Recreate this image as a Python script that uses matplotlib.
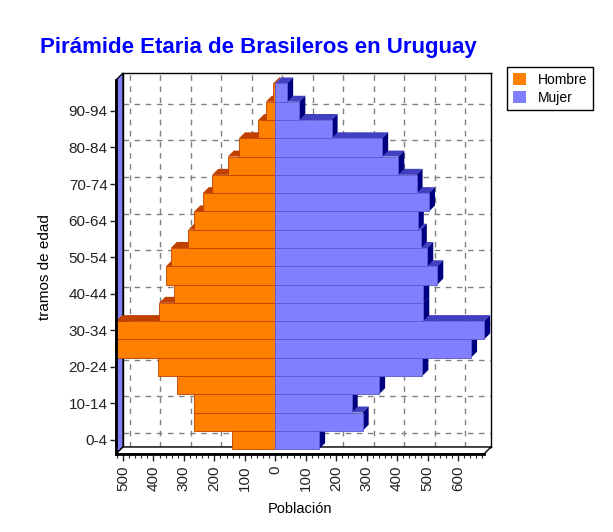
import numpy as np
import matplotlib
matplotlib.use("Agg")
import matplotlib.pyplot as plt
from matplotlib.patches import Polygon, Patch

plt.rcParams["font.family"] = ["Liberation Sans", "DejaVu Sans"]

W, H = 613, 532

# age groups bottom -> top
ages = ["0-4", "5-9", "10-14", "15-19", "20-24", "25-29", "30-34", "35-39",
        "40-44", "45-49", "50-54", "55-59", "60-64", "65-69", "70-74",
        "75-79", "80-84", "85-89", "90-94", "95-99"]
hombre = [143, 267, 267, 322, 386, 519, 523, 381, 332, 359,
          343, 286, 266, 238, 207, 156, 119, 56, 31, 7]
mujer = [144, 287, 251, 341, 483, 643, 686, 486, 486, 532,
         499, 478, 468, 505, 464, 404, 351, 185, 79, 39]
xticks = [-500, -400, -300, -200, -100, 0, 100, 200, 300, 400, 500, 600]

ORANGE = "#ff8000"
ORANGE_TOP = "#c04000"
BLUE = "#8080ff"
BLUE_TOP = "#4040c0"
BLUE_SIDE = "#000080"

# front face box in pixels (left, right, top, bottom)
FL, FR, FT, FB = 116, 484, 80, 454
WALL = 7      # depth of the back wall, px
DEPTH = 6     # depth of the bars, px
XMIN, XMAX = -523, 685.4
YMIN, YMAX = -0.77, 19.69


def box(l, r, t, b):
    return [l / W, 1 - b / H, (r - l) / W, (b - t) / H]


fig = plt.figure(figsize=(W / 100, H / 100), dpi=100)

# back wall with the grid
bk = fig.add_axes(box(FL + WALL, FR + WALL, FT - WALL, FB - WALL), zorder=0)
bk.set_xlim(XMIN, XMAX)
bk.set_ylim(YMIN, YMAX)
bk.set_xticks(xticks)
bk.set_yticks(np.arange(0, len(ages), 2))
bk.tick_params(length=0, labelbottom=False, labelleft=False)
bk.grid(True, color="#808080", ls=(0, (4, 4)), lw=1.0)
for s in bk.spines.values():
    s.set_color("black")
    s.set_linewidth(1.0)

# front axes
ax = fig.add_axes(box(FL, FR, FT, FB), zorder=1)
ax.patch.set_alpha(0)
ax.set_xlim(XMIN, XMAX)
ax.set_ylim(YMIN, YMAX)
px_x = (XMAX - XMIN) / (FR - FL)
px_y = (YMAX - YMIN) / (FB - FT)
wx, wy = WALL * px_x, WALL * px_y
dx, dy = DEPTH * px_x, DEPTH * px_y

# left wall and floor
ax.add_patch(Polygon([(XMIN, YMIN), (XMIN + wx, YMIN + wy), (XMIN + wx, YMAX + wy), (XMIN, YMAX)],
                     closed=True, fc=BLUE, ec="black", lw=1.0, clip_on=False, zorder=1))
ax.add_patch(Polygon([(XMIN, YMIN), (XMAX, YMIN), (XMAX + wx, YMIN + wy), (XMIN + wx, YMIN + wy)],
                     closed=True, fc="white", ec="black", lw=1.0, clip_on=False, zorder=1))

y = np.arange(len(ages))
# depth faces of the bars
for yi, m, f in zip(y, hombre, mujer):
    top = yi + 0.5
    ax.add_patch(Polygon([(-m, top), (0, top), (dx, top + dy), (-m + dx, top + dy)],
                         closed=True, fc=ORANGE_TOP, ec="none", clip_on=False, zorder=2))
    ax.add_patch(Polygon([(0, top), (f, top), (f + dx, top + dy), (dx, top + dy)],
                         closed=True, fc=BLUE_TOP, ec="none", clip_on=False, zorder=2))
    ax.add_patch(Polygon([(f, top - 1), (f + dx, top - 1 + dy), (f + dx, top + dy), (f, top)],
                         closed=True, fc=BLUE_SIDE, ec="none", clip_on=False, zorder=2))

ax.barh(y, [-v for v in hombre], height=1.0, color=ORANGE, edgecolor=ORANGE_TOP,
        lw=0.6, label="Hombre", zorder=3, clip_on=False)
ax.barh(y, mujer, height=1.0, color=BLUE, edgecolor="#5a5ad0",
        lw=0.6, label="Mujer", zorder=3, clip_on=False)

for s in ["top", "right"]:
    ax.spines[s].set_visible(False)
for s in ["left", "bottom"]:
    ax.spines[s].set_linewidth(2.0)
    ax.spines[s].set_zorder(4)

ax.set_xticks(xticks)
ax.set_xticklabels([str(abs(v)) for v in xticks], rotation=90, fontsize=11)
ax.set_xticks(np.arange(-520, 681, 20), minor=True)
ax.set_yticks(y[::2])
ax.set_yticklabels(ages[::2], fontsize=11)
ax.tick_params(axis="x", which="major", length=5, width=1, pad=3, colors="#222222")
ax.tick_params(axis="x", which="minor", length=3, width=0.8, colors="#222222")
ax.tick_params(axis="y", length=4, width=1, pad=2, colors="#222222")
ax.set_xlabel("Población", fontsize=10.5, labelpad=8)
ax.set_ylabel("tramos de edad", fontsize=11, labelpad=12)

fig.text(258 / W, 1 - 48 / H, "Pirámide Etaria de Brasileros en Uruguay", color="#0000ff",
         fontsize=16, fontweight="bold", ha="center", va="center")

fig.legend(handles=[Patch(fc=ORANGE, label="Hombre"), Patch(fc=BLUE, label="Mujer")],
           loc="upper left", bbox_to_anchor=(507 / W, 1 - 67 / H), borderaxespad=0,
           fancybox=False, framealpha=1, edgecolor="black", fontsize=10,
           handlelength=1.0, handleheight=1.0, handletextpad=0.8, labelspacing=0.3,
           borderpad=0.4)

fig.savefig("out.png", dpi=100)
